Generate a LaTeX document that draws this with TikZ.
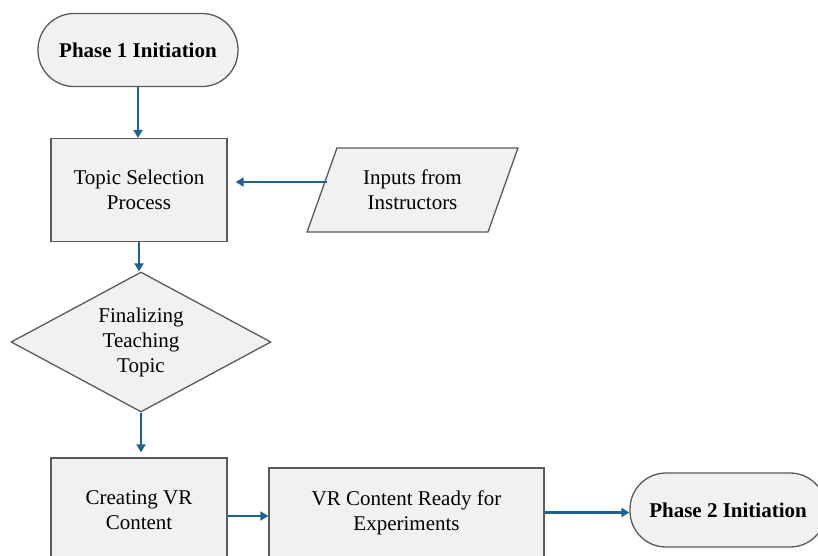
\documentclass[tikz,border=0pt]{standalone}
\usepackage{fontspec}
\setmainfont{Liberation Serif}
\usetikzlibrary{shapes.geometric,arrows.meta}
\definecolor{boxfill}{HTML}{F1F1F1}
\definecolor{boxline}{HTML}{5A5A5A}
\definecolor{arrowc}{HTML}{1F6190}
\tikzset{
  base/.style={draw=boxline, fill=boxfill, line width=1.3pt, align=center,
    font=\fontsize{21}{25}\selectfont, inner sep=0pt},
  terminal/.style={base, rounded corners=36pt, font=\fontsize{21}{25}\selectfont\bfseries},
  process/.style={base, rectangle},
  decision/.style={base, diamond, aspect=1.857},
  inputbox/.style={base, trapezium, trapezium left angle=64, trapezium right angle=116,
    trapezium stretches=true},
  arr/.style={draw=arrowc, line width=2.8pt, -{Triangle[length=8pt,width=9pt]}}
}
\begin{document}
\begin{tikzpicture}[x=1pt,y=-1pt]
\useasboundingbox (0,0) rectangle (818,555);
\clip (0,0) rectangle (818,555);
\node[terminal, minimum width=200pt, minimum height=73pt] (p1) at (138,50) {Phase 1 Initiation};
\node[process, minimum width=176pt, minimum height=103pt] (topic) at (139,190) {Topic Selection\\Process};
\node[inputbox, minimum width=211pt, minimum height=84pt] (inp) at (412.5,190) {Inputs from\\Instructors};
\node[decision, minimum width=260pt, minimum height=140pt] (dec) at (141,342) {Finalizing\\Teaching\\Topic};
\node[process, minimum width=176pt, minimum height=104pt] (create) at (139,510) {Creating VR\\Content};
\node[process, minimum width=275pt, minimum height=89pt] (vr) at (406.5,512.5) {VR Content Ready for\\Experiments};
\node[terminal, minimum width=196pt, minimum height=74pt] (p2) at (728,510) {Phase 2 Initiation};

\draw[arr] (p1.south) -- (p1.south |- topic.north);
\coordinate (ia) at ([xshift=6pt,yshift=8pt]inp.west);
\draw[arr, shorten >=8pt] (ia) -- (ia -| topic.east);
\draw[arr] (topic.south) -- (topic.south |- dec.north);
\draw[arr, shorten >=5pt] (dec.south) -- (dec.south |- create.north);
\coordinate (ca) at ([yshift=-6pt]create.east);
\draw[arr] (ca) -- (ca -| vr.west);
\draw[arr] (vr.east) -- (vr.east -| p2.west);
\end{tikzpicture}
\end{document}
